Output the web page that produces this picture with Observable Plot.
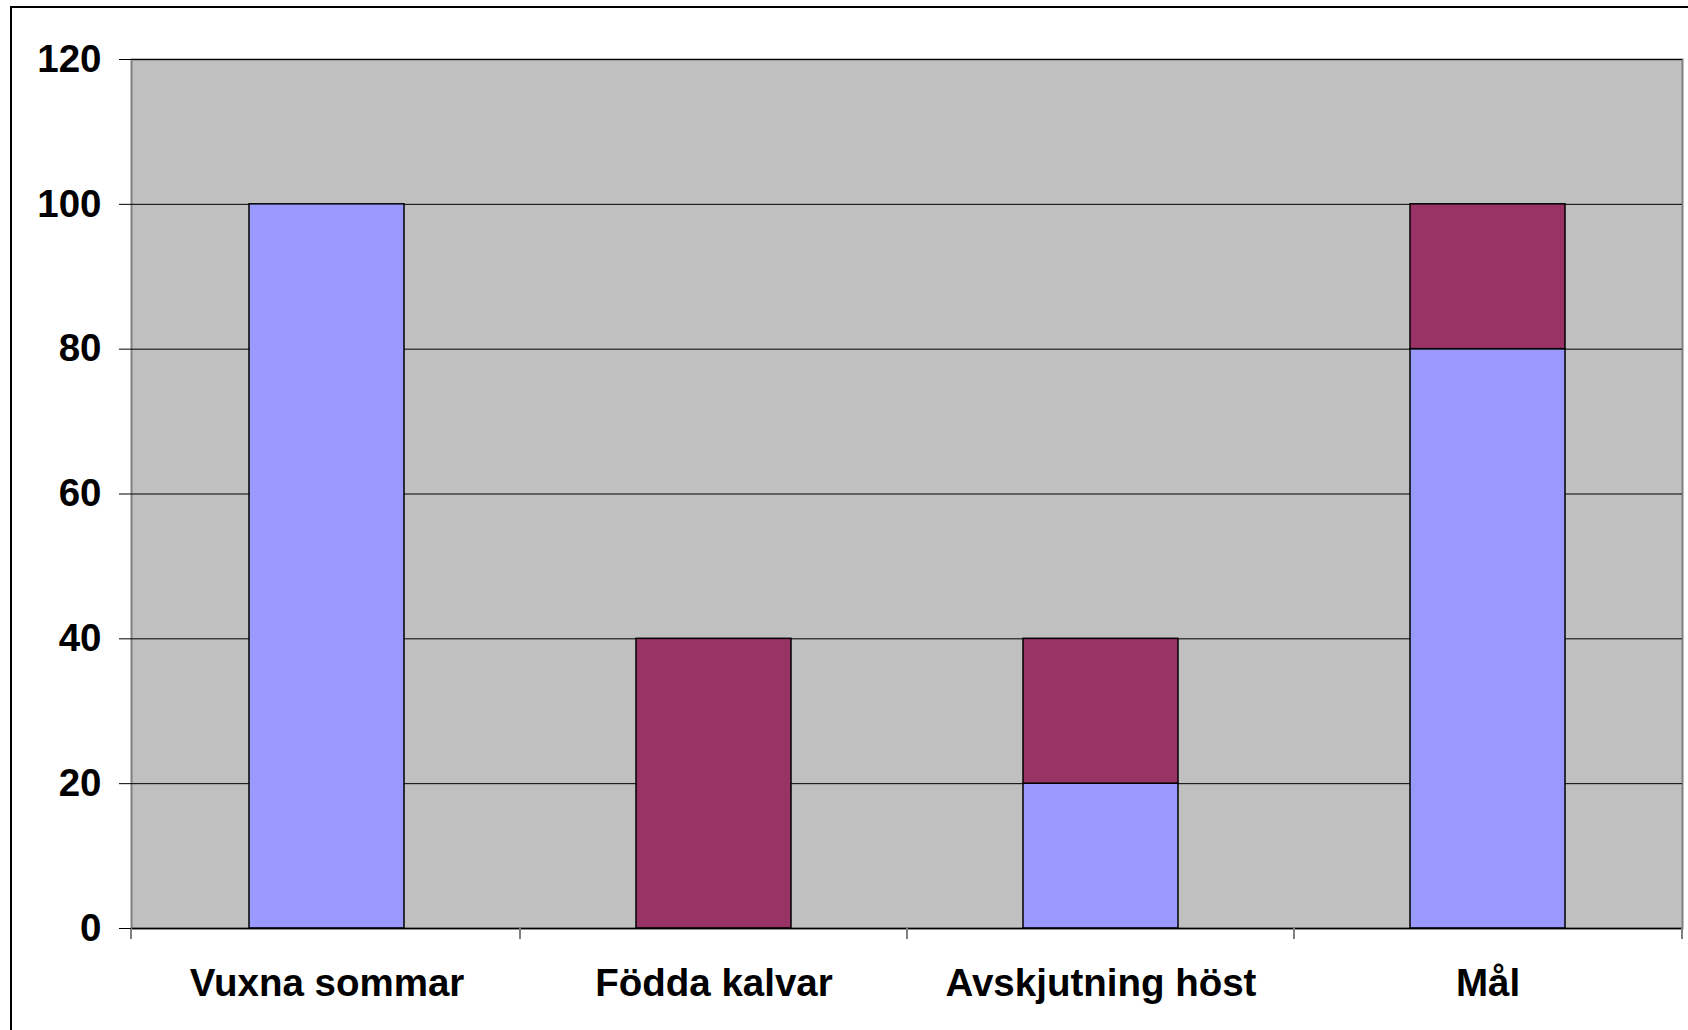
<!DOCTYPE html>
<html><head><meta charset="utf-8">
<script src="https://cdn.jsdelivr.net/npm/d3@7"></script>
<script src="https://cdn.jsdelivr.net/npm/@observablehq/plot@0.6"></script>
<style>
html,body{margin:0;padding:0;background:#fff;}
#wrap{position:relative;width:1688px;height:1030px;overflow:hidden;}
#outer{position:absolute;left:10px;top:6px;width:1700px;height:1100px;border-left:2px solid #000;border-top:2px solid #000;pointer-events:none;}
</style></head><body>
<div id="wrap"><div id="outer"></div></div>
<script>
const categories = ["Vuxna sommar", "Födda kalvar", "Avskjutning höst", "Mål"];
const seriesNames = ["Vuxna", "Kalvar"];
const adults = [100, 0, 20, 80];
const calves = [0, 40, 20, 20];
const yTicks = [0, 20, 40, 60, 80, 100, 120];
const colors = ["#9999FF", "#993366"];

const data = [];
categories.forEach((c, i) => {
  if (adults[i]) data.push({cat: c, series: seriesNames[0], value: adults[i]});
  if (calves[i]) data.push({cat: c, series: seriesNames[1], value: calves[i]});
});

function bandBoundaryTicks(index, scales, values, dims) {
  const x = scales.x;
  const bw = typeof x.bandwidth === "function" ? x.bandwidth() : (x.bandwidth || 0);
  const centers = categories.map(c => x(c) + bw / 2);
  const pos = [dims.marginLeft];
  for (let i = 0; i < centers.length - 1; i++) pos.push((centers[i] + centers[i + 1]) / 2);
  pos.push(dims.width - dims.marginRight);
  const y0 = dims.height - dims.marginBottom;
  const g = d3.create("svg:g");
  g.selectAll("line").data(pos).join("line")
    .attr("x1", d => d).attr("x2", d => d)
    .attr("y1", y0).attr("y2", y0 + 11)
    .attr("stroke", "#808080").attr("stroke-width", 2);
  return g.node();
}

const chart = Plot.plot({
  width: 1688, height: 1030,
  marginLeft: 131, marginRight: 6, marginTop: 59, marginBottom: 102,
  style: {fontFamily: "'Liberation Sans', Arial, sans-serif", fontWeight: "bold", fontSize: "38.5px", color: "#000", background: "transparent"},
  x: {domain: categories, paddingInner: 0.6, paddingOuter: 0.3, label: null},
  y: {domain: [0, 120], label: null},
  color: {domain: seriesNames, range: colors},
  marks: [
    Plot.frame({fill: "#C0C0C0", stroke: "#808080", strokeWidth: 2}),
    Plot.gridY(yTicks, {stroke: "#000", strokeOpacity: 1, strokeWidth: 1}),
    Plot.barY(data, Plot.stackY({x: "cat", y: "value", fill: "series", stroke: "#000", strokeWidth: 1.5})),
    Plot.ruleY([0], {stroke: "#000", strokeWidth: 1.5}),
    bandBoundaryTicks,
    Plot.axisY(yTicks, {tickSize: 12, tickPadding: 18, fontSize: 38.5, fontWeight: "bold"}),
    Plot.axisX({tickSize: 0, tickPadding: 40, fontSize: 38.5, fontWeight: "bold"})
  ]
});
document.getElementById("wrap").prepend(chart);
</script>
</body></html>
